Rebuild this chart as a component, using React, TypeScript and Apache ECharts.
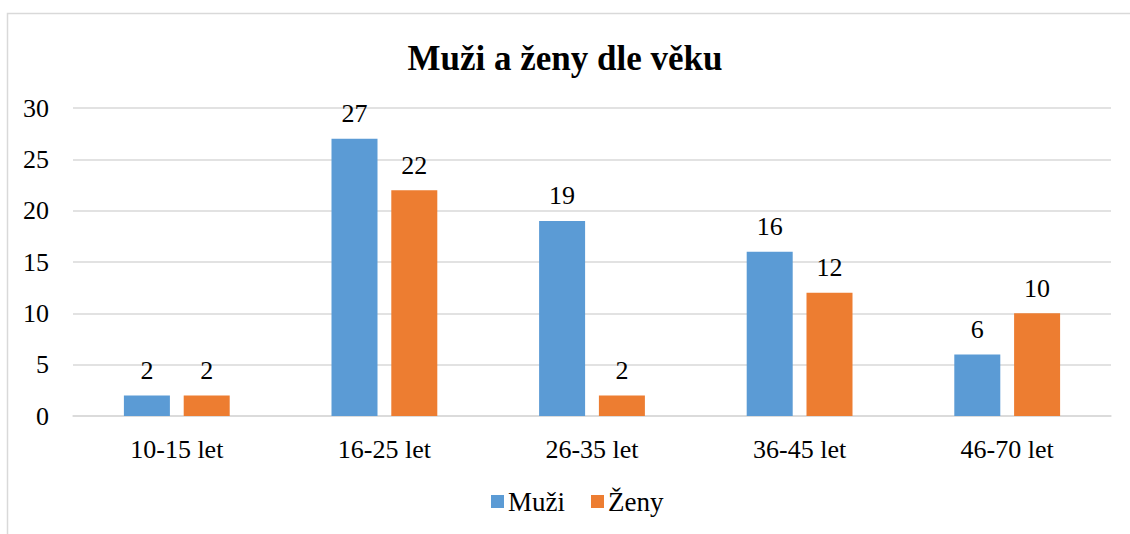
import React, { useEffect, useRef } from "react";
import * as echarts from "echarts";

const categories = ["10-15 let", "16-25 let", "26-35 let", "36-45 let", "46-70 let"];
const muzi = [2, 27, 19, 16, 6];
const zeny = [2, 22, 2, 12, 10];
const seriesNames = ["Muži", "Ženy"];
const titleText = "Muži a ženy dle věku";
const yMin = 0;
const yMax = 30;
const yInterval = 5;

const FONT = "Liberation Serif";

export default function App() {
  const ref = useRef<HTMLDivElement>(null);
  useEffect(() => {
    if (!ref.current) return;
    const chart = echarts.init(ref.current, null, { renderer: "svg" });
    const labelCfg = {
      show: true,
      position: "top" as const,
      distance: 12,
      fontFamily: FONT,
      fontSize: 26,
      color: "#000",
    };
    chart.setOption({
      animation: false,
      backgroundColor: "#fff",
      textStyle: { fontFamily: FONT },
      title: {
        text: titleText,
        left: "center",
        top: 36,
        textStyle: { fontFamily: FONT, fontSize: 35, fontWeight: "bold", color: "#000" },
      },
      graphic: [
        {
          type: "rect",
          shape: { x: 7.5, y: 13.5, width: 1300, height: 700 },
          style: { fill: "none", stroke: "#d9d9d9", lineWidth: 1.5 },
          silent: true,
          z: -1,
        },
      ],
      legend: {
        data: seriesNames,
        bottom: 14,
        left: 486,
        icon: "rect",
        itemWidth: 13,
        itemHeight: 13,
        itemGap: 26,
        textStyle: { fontFamily: FONT, fontSize: 27, color: "#000", padding: [0, 0, 0, -1] },
      },
      grid: { left: 73, right: 19, top: 108, bottom: 118 },
      xAxis: {
        type: "category",
        data: categories,
        axisLine: { lineStyle: { color: "#d9d9d9", width: 1.5 } },
        axisTick: { show: false },
        axisLabel: { fontFamily: FONT, fontSize: 26, color: "#000", margin: 20 },
      },
      yAxis: {
        type: "value",
        min: yMin,
        max: yMax,
        interval: yInterval,
        axisLine: { show: false },
        axisTick: { show: false },
        splitLine: { lineStyle: { color: "#d9d9d9", width: 1.5 } },
        axisLabel: { fontFamily: FONT, fontSize: 26, color: "#000", margin: 24 },
      },
      series: [
        {
          name: seriesNames[0],
          type: "bar",
          data: muzi,
          barWidth: 46,
          barGap: "30%",
          itemStyle: { color: "#5B9BD5" },
          label: labelCfg,
        },
        {
          name: seriesNames[1],
          type: "bar",
          data: zeny,
          barWidth: 46,
          barGap: "30%",
          itemStyle: { color: "#ED7D31" },
          label: labelCfg,
        },
      ],
    });
    return () => chart.dispose();
  }, []);
  return (
    <div
      ref={ref}
      style={{ position: "fixed", left: 0, top: 0, width: 1130, height: 534 }}
    />
  );
}
